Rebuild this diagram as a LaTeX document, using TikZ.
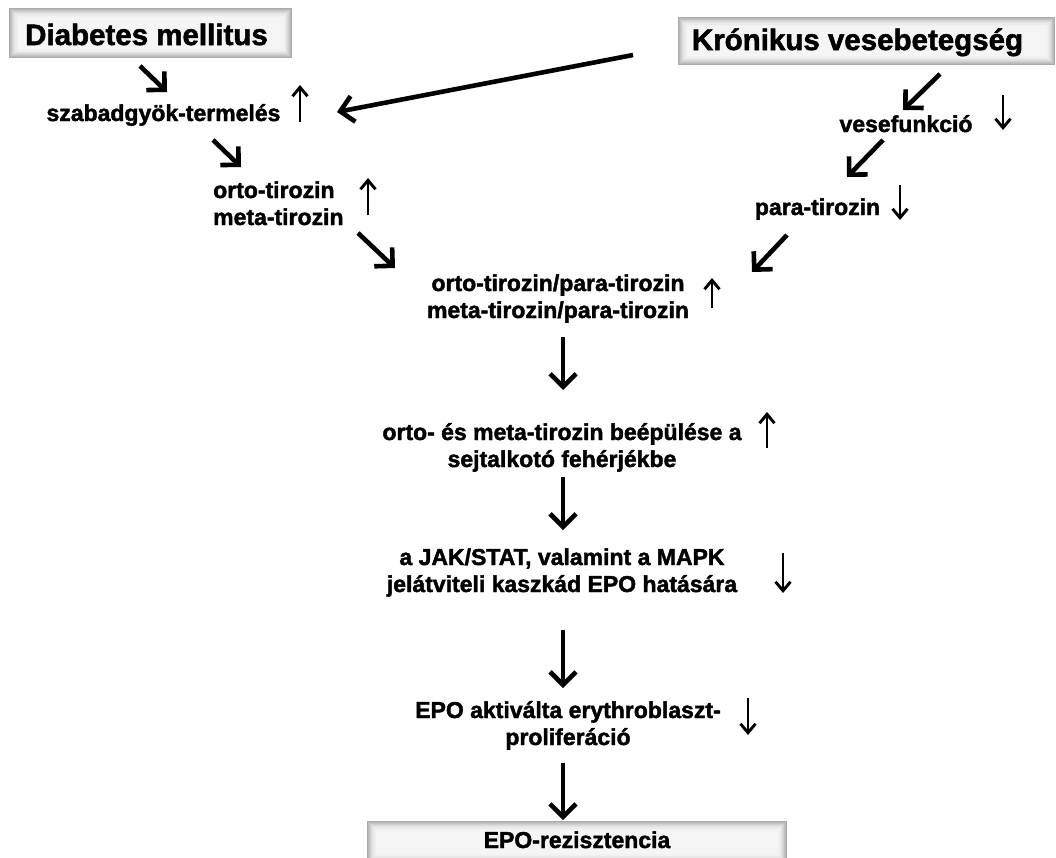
\documentclass[tikz,border=0pt]{standalone}
\usepackage{fontspec}
\setmainfont{Liberation Sans}[BoldFeatures={FakeBold=1.8}]
\usetikzlibrary{arrows.meta}
\tikzset{
  lbl/.style={font=\fontsize{23}{27}\selectfont\bfseries, inner sep=0pt, align=center},
  title/.style={font=\fontsize{29.5}{34}\selectfont\bfseries, inner sep=0pt},
  glowbox/.style={draw=none, fill=gray!66,
    path picture={
      \foreach \d/\c in {1/56,2/46,3/37,4/29,5/22,6/16,7.5/11,9/8}{
        \fill[gray!\c] ([shift={(\d,\d)}]path picture bounding box.north west)
          rectangle ([shift={(-\d,-\d)}]path picture bounding box.south east);
      }
    }},
  bigarrow/.style={line width=4.6pt, -{Straight Barb[length=13pt,width=26pt]}},
  smallarrow/.style={line width=2.9pt, -{Straight Barb[length=9pt,width=15pt]}}
}
\begin{document}
\begin{tikzpicture}[x=1pt,y=-1pt]
\useasboundingbox[fill=white] (0,0) rectangle (1056,857);

% boxes
\node[title, glowbox, minimum width=283pt, minimum height=50pt, text height=24pt, text depth=0pt] (dm) at (150.5,33) {Diabetes mellitus\hspace*{8pt}};
\node[title, glowbox, minimum width=377pt, minimum height=48pt, text height=18pt, text depth=0pt] (kv) at (866.5,41) {Krónikus vesebetegség\hspace*{18pt}};
\node[lbl, glowbox, minimum width=420pt, minimum height=42pt, text height=12pt, text depth=0pt] (epo) at (577,842) {EPO-rezisztencia};

% text nodes (multi-line nodes: base = baseline of last line)
\node[lbl, anchor=base] (szab) at (163.5,121) {szabadgyök-termelés};
\node[lbl, anchor=base west, align=left] (om) at (213,225) {orto-tirozin\\meta-tirozin};
\node[lbl, anchor=base] (vese) at (906,132) {vesefunkció};
\node[lbl, anchor=base] (para) at (817.5,215) {para-tirozin};
\node[lbl, anchor=base] (ctr) at (558,318) {orto-tirozin/para-tirozin\\meta-tirozin/para-tirozin};
\node[lbl, anchor=base] (bee) at (562,467) {orto- és meta-tirozin beépülése a\\sejtalkotó fehérjékbe};
\node[lbl, anchor=base] (jak) at (562,592) {a JAK/STAT, valamint a MAPK\\jelátviteli kaszkád EPO hatására};
\node[lbl, anchor=base] (akt) at (568,745) {EPO aktiválta erythroblaszt-\\proliferáció};

% connector end points
\coordinate (a1s) at (140,66);  \coordinate (a1e) at (167,92);
\coordinate (a2s) at (633,55);  \coordinate (a2e) at (337,112);
\coordinate (a3s) at (213,140); \coordinate (a3e) at (241,167);
\coordinate (a4s) at (358,233); \coordinate (a4e) at (395,268);
\coordinate (a5s) at (940,74);  \coordinate (a5e) at (903,110);
\coordinate (a6s) at (883,140); \coordinate (a6e) at (847,177);
\coordinate (a7s) at (787,235); \coordinate (a7e) at (752,272);
\coordinate (a8s) at (563,337); \coordinate (a8e) at (563,390);
\coordinate (a9s) at (563,477); \coordinate (a9e) at (563,530);
\coordinate (a10s) at (563,630); \coordinate (a10e) at (563,688);
\coordinate (a11s) at (563,763); \coordinate (a11e) at (563,820);

\draw[bigarrow] (a1s) -- (a1e);
\draw[bigarrow] (a2s) -- (a2e);
\draw[bigarrow] (a3s) -- (a3e);
\draw[bigarrow] (a4s) -- (a4e);
\draw[bigarrow] (a5s) -- (a5e);
\draw[bigarrow] (a6s) -- (a6e);
\draw[bigarrow] (a7s) -- (a7e);
\draw[bigarrow] (a8s) -- (a8e);
\draw[bigarrow] (a9s) -- (a9e);
\draw[bigarrow] (a10s) -- (a10e);
\draw[bigarrow] (a11s) -- (a11e);

% up / down markers
\coordinate (u1s) at (300,122); \coordinate (u1e) at (300,85);
\coordinate (u2s) at (368,215); \coordinate (u2e) at (368,178);
\coordinate (d1s) at (1003,95); \coordinate (d1e) at (1003,130);
\coordinate (d2s) at (900,185); \coordinate (d2e) at (900,220);
\coordinate (u3s) at (712,308); \coordinate (u3e) at (712,278);
\coordinate (u4s) at (767,448); \coordinate (u4e) at (767,412);
\coordinate (d3s) at (783,553); \coordinate (d3e) at (783,593);
\coordinate (d4s) at (748,698); \coordinate (d4e) at (748,735);

\foreach \p in {u1,u2,d1,d2,u3,u4,d3,d4}{
  \draw[smallarrow] (\p s) -- (\p e);
}
\end{tikzpicture}
\end{document}
